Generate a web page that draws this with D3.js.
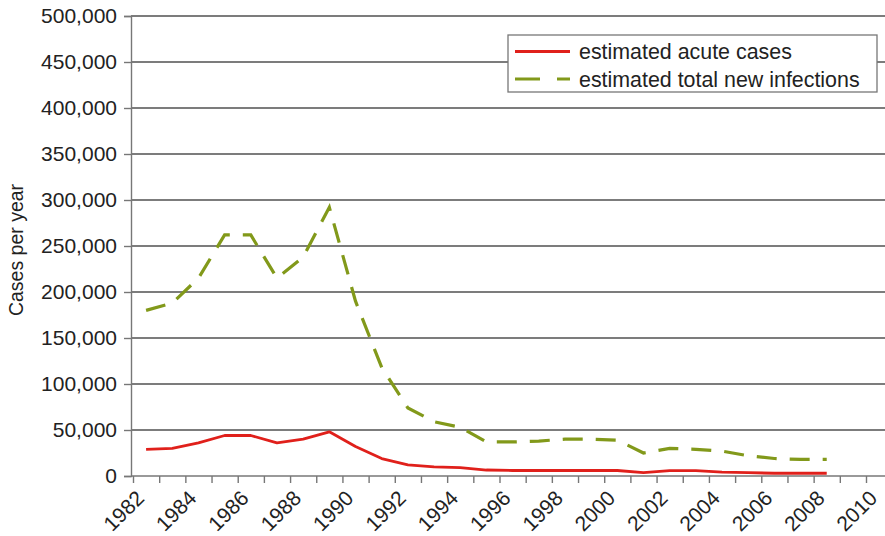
<!DOCTYPE html>
<html>
<head>
<meta charset="utf-8">
<script src="https://cdn.jsdelivr.net/npm/d3@7"></script>
<style>
  html, body { margin: 0; padding: 0; background: #fff; }
  svg { display: block; font-family: "Liberation Sans", Arial, Helvetica, sans-serif; }
</style>
</head>
<body>
<svg id="chart" width="885" height="536"></svg>
<script>
// ---- data ----
const years = [1982,1983,1984,1985,1986,1987,1988,1989,1990,1991,1992,1993,1994,1995,1996,1997,1998,1999,2000,2001,2002,2003,2004,2005,2006,2007,2008];
const acuteCases = [29000,30000,36000,44000,44000,36000,40000,48000,32000,19000,12000,10000,9000,6500,6000,6000,6000,6000,6000,3600,5800,5800,4300,3600,3000,3000,3000];
const totalInfections = [180000,188000,215000,262000,262000,215000,238000,292000,190000,118000,74000,59000,53000,37000,37000,38000,40000,40000,39000,25000,30000,29000,27000,22000,19000,18000,18000];
const yTicks = [0,50000,100000,150000,200000,250000,300000,350000,400000,450000,500000];
const xLabelYears = [1982,1984,1986,1988,1990,1992,1994,1996,1998,2000,2002,2004,2006,2008,2010];
const seriesNames = ["estimated acute cases", "estimated total new infections"];
const yTitle = "Cases per year";

// ---- layout ----
const mLeft = 131, mTop = 16, mBottom = 476, xStart = 133, xEnd = 866, plotRight = 885;
const svg = d3.select("#chart");

const x = d3.scaleLinear().domain([1982, 2010]).range([xStart, xEnd]);
const y = d3.scaleLinear().domain([0, 500000]).range([mBottom, mTop]);
const half = (x(1983) - x(1982)) / 2;

// gridlines
svg.append("g").selectAll("line").data(yTicks.filter(v => v > 0)).join("line")
  .attr("x1", mLeft).attr("x2", plotRight)
  .attr("y1", d => y(d)).attr("y2", d => y(d))
  .attr("stroke", "#505050").attr("stroke-width", 1.6);

// y axis
const yAxis = svg.append("g").attr("transform", `translate(${mLeft},0)`)
  .call(d3.axisLeft(y).tickValues(yTicks).tickFormat(d3.format(",")).tickSize(7).tickPadding(7));
yAxis.select(".domain").attr("stroke", "#777").attr("stroke-width", 1.4);
yAxis.selectAll(".tick line").attr("stroke", "#777").attr("stroke-width", 1.4);
yAxis.selectAll("text").attr("font-size", 21).attr("fill", "#222")
  .attr("font-family", "Liberation Sans, Arial, sans-serif");

// x axis
const xAxis = svg.append("g").attr("transform", `translate(0,${mBottom})`)
  .call(d3.axisBottom(x).tickValues(d3.range(1982, 2011)).tickSize(7).tickFormat(""));
xAxis.select(".domain").remove();
svg.append("line").attr("x1", mLeft).attr("x2", plotRight).attr("y1", mBottom).attr("y2", mBottom)
  .attr("stroke", "#777").attr("stroke-width", 1.6);
xAxis.selectAll(".tick line").attr("stroke", "#777").attr("stroke-width", 1.4);

svg.append("g").selectAll("text").data(xLabelYears).join("text")
  .attr("transform", d => `translate(${x(d) + 2},${mBottom + 13}) rotate(-45)`)
  .attr("text-anchor", "end")
  .attr("dy", "0.7em")
  .attr("font-size", 21).attr("fill", "#222")
  .text(d => d);

// y title
svg.append("text")
  .attr("transform", `translate(23,${(mTop + mBottom) / 2 + 4}) rotate(-90)`)
  .attr("text-anchor", "middle")
  .attr("font-size", 19.5).attr("fill", "#222")
  .text(yTitle);

// lines
const line = d3.line().x(d => x(d[0]) + half).y(d => y(d[1]));
svg.append("path")
  .datum(years.map((yr, i) => [yr, totalInfections[i]]))
  .attr("d", line).attr("fill", "none")
  .attr("stroke", "#82991a").attr("stroke-width", 3.2)
  .attr("stroke-dasharray", "20,13");
svg.append("path")
  .datum(years.map((yr, i) => [yr, acuteCases[i]]))
  .attr("d", line).attr("fill", "none")
  .attr("stroke", "#e0201b").attr("stroke-width", 2.8)
  .attr("stroke-linejoin", "round");

// legend
const lg = svg.append("g");
lg.append("rect").attr("x", 508).attr("y", 35).attr("width", 369).attr("height", 57)
  .attr("fill", "#fff").attr("stroke", "#777").attr("stroke-width", 1.3);
lg.append("line").attr("x1", 515).attr("x2", 570).attr("y1", 51.5).attr("y2", 51.5)
  .attr("stroke", "#e0201b").attr("stroke-width", 2.8);
lg.append("line").attr("x1", 515).attr("x2", 570).attr("y1", 79).attr("y2", 79)
  .attr("stroke", "#82991a").attr("stroke-width", 3.2).attr("stroke-dasharray", "25,17");
lg.selectAll("text.lt").data(seriesNames).join("text").attr("class", "lt")
  .attr("x", 579).attr("y", (d, i) => 52 + i * 27.5)
  .attr("dy", "0.35em")
  .attr("font-size", 21.4).attr("fill", "#222")
  .text(d => d);
</script>
</body>
</html>
